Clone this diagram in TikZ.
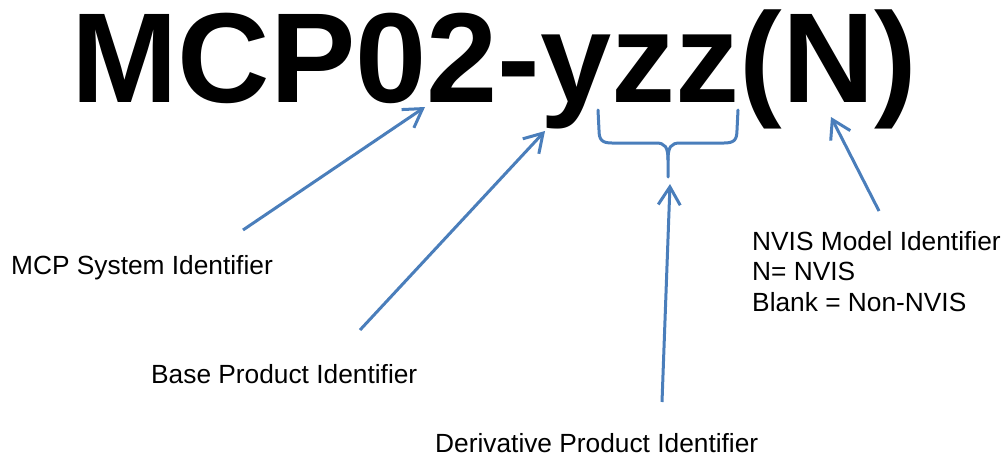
\documentclass[tikz,border=0pt]{standalone}
\usepackage{fontspec}
\setmainfont{Liberation Sans}
\usetikzlibrary{arrows.meta}
\definecolor{callout}{RGB}{74,126,187}
\tikzset{
  pointer/.style={draw=callout, line width=3pt, -{Straight Barb[length=18pt,width=22pt]}},
  label/.style={anchor=base west, inner sep=0pt, font=\fontsize{26.3}{30.5}\selectfont, align=left}
}

\begin{document}
\begin{tikzpicture}[x=1pt,y=-1pt]
    \useasboundingbox (0,0) rectangle (1008,458);
    % part number
    \node[anchor=base west, inner sep=0pt, font=\fontsize{128}{128}\selectfont\bfseries] (code) at (71,102) {MCP02-yzz(N)};
    % labels
    \node[label] (system) at (11,274) {MCP System Identifier};
    \node[label] (base) at (151,383) {Base Product Identifier};
    \node[label] (deriv) at (435,452) {Derivative Product Identifier};
    \node[label] (nvis) at (752,311) {NVIS Model Identifier\\N= NVIS\\Blank = Non-NVIS};
    % arrow ends
    \coordinate (systail) at (243,230);
    \coordinate (systip) at (425,107);
    \coordinate (basetail) at (360,330);
    \coordinate (basetip) at (545,131);
    \coordinate (derivtail) at (662,402);
    \coordinate (derivtip) at (670,184);
    \coordinate (nvistail) at (879,211);
    \coordinate (nvistip) at (831,117);
    % brace under yzz
    \draw[callout, line width=3pt, line cap=round]
      (598,110) -- (599,130) .. controls (599,140) and (602,143) .. (612,143)
      -- (656,143) .. controls (665,143) and (668,147) .. (668,160) -- (668,177);
    \draw[callout, line width=3pt, line cap=round]
      (738,110) -- (737,130) .. controls (737,140) and (734,143) .. (724,143)
      -- (680,143) .. controls (671,143) and (668,147) .. (668,160);
    % pointers
    \draw[pointer] (systail) -- (systip);
    \draw[pointer] (basetail) -- (basetip);
    \draw[pointer] (derivtail) -- (derivtip);
    \draw[pointer] (nvistail) -- (nvistip);
\end{tikzpicture}
\end{document}
